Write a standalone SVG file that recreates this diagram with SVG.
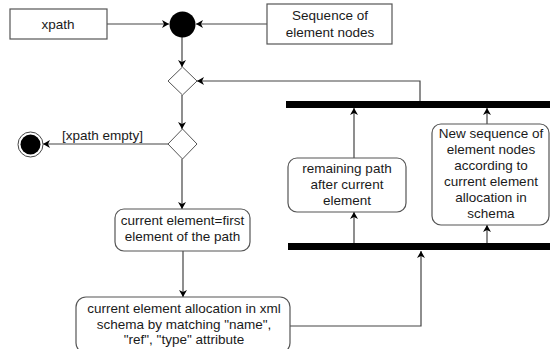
<svg xmlns="http://www.w3.org/2000/svg" width="550" height="349" viewBox="0 0 550 349">
<defs>
<marker id="ah" markerWidth="8" markerHeight="8" refX="7" refY="4" orient="auto" markerUnits="userSpaceOnUse">
<path d="M0,0 L7,4 L0,8 L2,4 Z" fill="#000"/>
</marker>
<style>
.box{fill:#fff;stroke:#555;stroke-width:1.2}
.t{font-family:"Liberation Sans",Arial,sans-serif;font-size:13.5px;fill:#1a1a1a;text-anchor:middle}
.c{fill:none;stroke:#444;stroke-width:1.2}
.bar{fill:#000}
</style>
</defs>
<g id="connectors">
<path class="c" d="M107,24 H169" marker-end="url(#ah)"/>
<path class="c" d="M267,24 H196" marker-end="url(#ah)"/>
<path class="c" d="M182,37 V67" marker-end="url(#ah)"/>
<path class="c" d="M420,101 V81 H197" marker-end="url(#ah)"/>
<path class="c" d="M182,95 V129" marker-end="url(#ah)"/>
<path class="c" d="M168,144 H43" marker-end="url(#ah)"/>
<path class="c" d="M182,159 V209" marker-end="url(#ah)"/>
<path class="c" d="M183,251 V297" marker-end="url(#ah)"/>
<path class="c" d="M290,326 H421 V251" marker-end="url(#ah)"/>
<path class="c" d="M354,243 V212" marker-end="url(#ah)"/>
<path class="c" d="M354,158 V108" marker-end="url(#ah)"/>
<path class="c" d="M487,243 V225" marker-end="url(#ah)"/>
<path class="c" d="M487,124 V108" marker-end="url(#ah)"/>
<text x="62" y="140" style="font-family:'Liberation Sans',Arial,sans-serif;font-size:13.5px;fill:#1a1a1a">[xpath empty]</text>
</g>
<g id="xpath">
<rect class="box" x="10" y="9" width="97" height="30"/>
<text class="t" x="58" y="29">xpath</text>
</g>
<g id="start">
<circle cx="182.5" cy="24.5" r="13" fill="#000"/>
</g>
<g id="sequence">
<rect class="box" x="267" y="4" width="125" height="40"/>
<text class="t" x="330" y="20">Sequence of</text>
<text class="t" x="330" y="37">element nodes</text>
</g>
<g id="merge">
<path d="M182.5,67 L197,81 L182.5,95 L168,81 Z" fill="#fff" stroke="#555" stroke-width="1"/>
</g>
<g id="decision">
<path d="M182.5,129 L197,144 L182.5,159 L168,144 Z" fill="#fff" stroke="#555" stroke-width="1"/>
</g>
<g id="end">
<circle cx="30.5" cy="144.5" r="12.5" fill="#fff" stroke="#444" stroke-width="1"/>
<circle cx="30.5" cy="144.5" r="10" fill="#000"/>
</g>
<g id="first">
<rect class="box" x="115" y="209" width="135" height="42" rx="9"/>
<text class="t" x="182.5" y="225">current element=first</text>
<text class="t" x="182.5" y="241">element of the path</text>
</g>
<g id="allocation">
<rect class="box" x="76" y="297" width="214" height="56" rx="10"/>
<text class="t" x="184" y="313">current element allocation in xml</text>
<text class="t" x="184" y="329">schema by matching "name",</text>
<text class="t" x="184" y="344">"ref", "type" attribute</text>
</g>
<g id="fork">
<rect class="bar" x="288" y="243" width="262" height="7"/>
</g>
<g id="join">
<rect class="bar" x="286" y="101" width="264" height="7"/>
</g>
<g id="remaining">
<rect class="box" x="288" y="158" width="118" height="54" rx="9"/>
<text class="t" x="347" y="173">remaining path</text>
<text class="t" x="347" y="189">after current</text>
<text class="t" x="347" y="205">element</text>
</g>
<g id="newseq">
<rect class="box" x="432" y="124" width="117" height="101" rx="9"/>
<text class="t" x="491" y="138">New sequence of</text>
<text class="t" x="491" y="154">element nodes</text>
<text class="t" x="491" y="170">according to</text>
<text class="t" x="491" y="186">current element</text>
<text class="t" x="491" y="202">allocation in</text>
<text class="t" x="491" y="218">schema</text>
</g>
</svg>
